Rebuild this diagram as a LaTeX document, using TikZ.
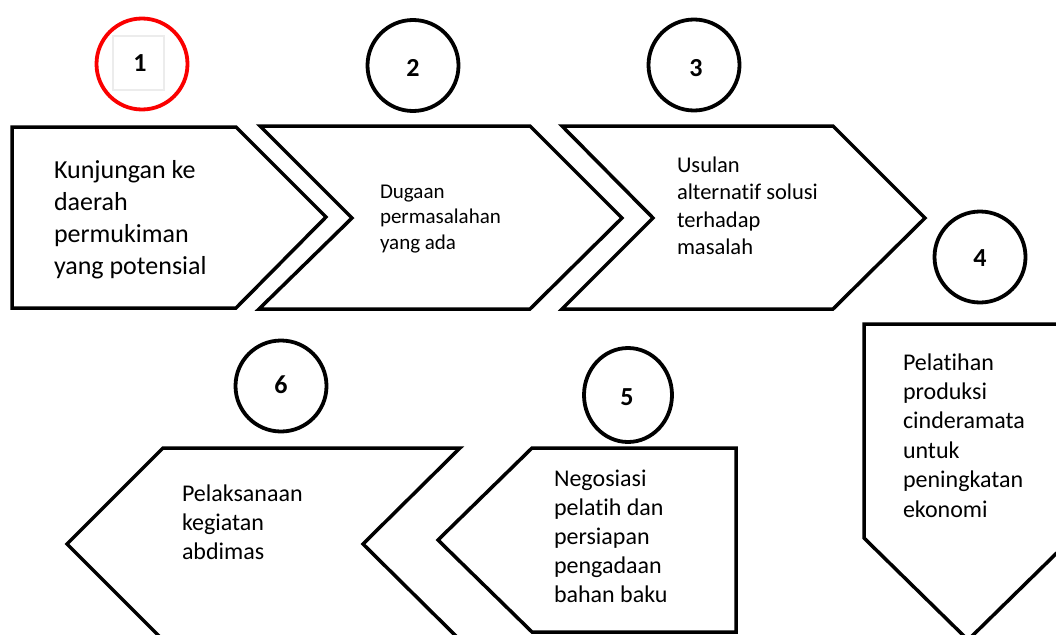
\documentclass[tikz,border=0pt]{standalone}
\usepackage{fontspec}
\setmainfont{Carlito}[Ligatures=NoCommon]
\usetikzlibrary{shapes.geometric}
\definecolor{ringred}{RGB}{250,0,0}
\definecolor{faintbox}{RGB}{236,236,236}
\begin{document}
\begin{tikzpicture}[x=1pt,y=-1pt,
  shapeline/.style={draw=black,line width=3.5pt,line join=miter,fill=white},
  ring/.style={circle,draw=black,line width=3.8pt,minimum size=91pt,inner sep=0pt,outer sep=0pt},
  num/.style={font=\fontsize{26}{30}\selectfont\bfseries,inner sep=0pt},
  txt/.style={align=left,anchor=north west,inner sep=0pt,outer sep=0pt}
]
\useasboundingbox (0,0) rectangle (1056,634);

% top row shapes
\draw[shapeline] (12,127) -- (236,127) -- (326,217) -- (236,308) -- (12,308) -- cycle;
\draw[shapeline] (260,126) -- (530,126) -- (622,218) -- (530,309) -- (259,309) -- (352,218) -- cycle;
\draw[shapeline] (562,126) -- (833,126) -- (925,218) -- (833,309) -- (562,309) -- (653,218) -- cycle;
% right shape pointing down
\draw[shapeline] (864,324) -- (1072,324) -- (1072,538) -- (968,640) -- (864,538) -- cycle;
% bottom row shapes pointing left
\draw[shapeline] (736,448) -- (736,632) -- (532,632) -- (438,540) -- (532,448) -- cycle;
\draw[shapeline] (460,448) -- (363,544) -- (460,640) -- (163,640) -- (67,544) -- (163,448) -- cycle;

% number circles
\node[draw=faintbox,line width=1.2pt,minimum width=51pt,minimum height=54pt,inner sep=0pt] (box1) at (138.5,63) {};
\node[ring,draw=ringred] (c1) at (142,64) {};
\node[ring] (c2) at (413,65.5) {};
\node[ring] (c3) at (694,65) {};
\node[ring] (c4) at (980,257) {};
\node[ring] (c6) at (281,386) {};
\node[ring,ellipse,minimum width=88pt,minimum height=94pt] (c5) at (628,395) {};

\node[num] (n1) at (140,63) {1};
\node[num] (n2) at (413,68) {2};
\node[num] (n3) at (696,68) {3};
\node[num] (n4) at (980,258) {4};
\node[num] (n5) at (627,397) {5};
\node[num] (n6) at (281,385) {6};

% texts
\node[txt,font=\fontsize{26}{32}\selectfont] (t1) at (54,152) {\rule{0pt}{26pt}Kunjungan ke\\daerah\\permukiman\\yang potensial};
\node[txt,font=\fontsize{21}{25.5}\selectfont] (t2) at (380,177) {\rule{0pt}{21pt}Dugaan\\permasalahan\\yang ada};
\node[txt,font=\fontsize{22.5}{27.5}\selectfont] (t3) at (677,149.5) {\rule{0pt}{22.5pt}Usulan\\alternatif solusi\\terhadap\\masalah};
\node[txt,font=\fontsize{24}{29.4}\selectfont] (t4) at (903,346) {\rule{0pt}{24pt}Pelatihan\\produksi\\cinderamata\\untuk\\peningkatan\\ekonomi};
\node[txt,font=\fontsize{24}{29}\selectfont] (t5) at (554,462) {\rule{0pt}{24pt}Negosiasi\\pelatih dan\\persiapan\\pengadaan\\bahan baku};
\node[txt,font=\fontsize{24}{29}\selectfont] (t6) at (182,477) {\rule{0pt}{24pt}Pelaksanaan\\kegiatan\\abdimas};
\end{tikzpicture}
\end{document}
